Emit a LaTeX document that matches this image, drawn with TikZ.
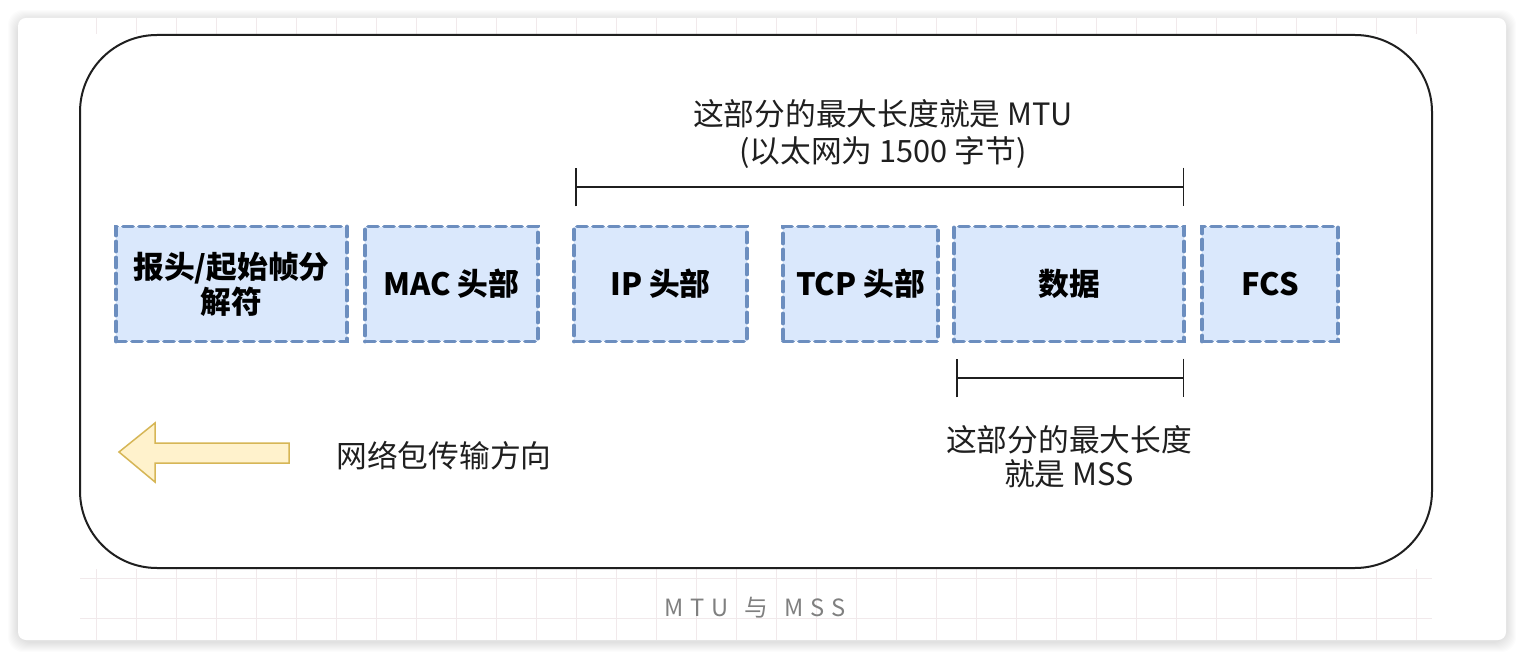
\documentclass[tikz,border=0pt]{standalone}
\usepackage{fontspec}
\newfontfamily\cjk{Noto Sans CJK SC}
\newfontfamily\capfont{Noto Sans CJK SC}[LetterSpace=30]
\usepackage{tikz}
\usetikzlibrary{arrows.meta}
\definecolor{boxfill}{HTML}{DAE8FC}
\definecolor{boxline}{HTML}{6C8EBF}
\definecolor{arrfill}{HTML}{FFF2CC}
\definecolor{arrline}{HTML}{D6B656}
\definecolor{gridcol}{HTML}{F1E9EB}
\definecolor{capgray}{HTML}{808080}
\definecolor{ink}{HTML}{1F1F1F}

\tikzset{
  pktbox/.style={draw=boxline, fill=boxfill, line width=0.075cm, dash pattern=on 0.2cm off 0.12cm,
    line cap=round, minimum height=2.3cm, inner sep=0pt, align=center,
    font=\cjk\bfseries\fontsize{17.5}{20}\selectfont},
  note/.style={text=ink, align=center, inner sep=0pt, font=\cjk\fontsize{17.5}{21}\selectfont},
  span/.style={draw=ink, line width=0.03cm, {Bar[width=0.78cm]}-{Bar[width=0.78cm]}},
  gridline/.style={draw=gridcol, line width=0.02cm}
}

\begin{document}
\begin{tikzpicture}[x=0.02cm, y=-0.02cm]
\useasboundingbox (0,0) rectangle (1524,658);
% card with soft shadow
\foreach \s in {1,...,10}
  \fill[black, opacity=0.012, rounded corners=0.3cm] ({18-\s},{20-\s}) rectangle ({1506+\s},{642+\s});
\fill[white, rounded corners=0.16cm] (18,18) rectangle (1506,640);
% grid strips
\foreach \gx in {96,136,...,1416} {
  \draw[gridline] (\gx,18) -- (\gx,34);
  \draw[gridline] (\gx,569) -- (\gx,640);
}
\draw[gridline] (80,578) -- (1432,578);
\draw[gridline] (80,618) -- (1432,618);
% frame
\draw[ink, line width=0.04cm, fill=white, rounded corners=1.54cm] (80,35) rectangle (1432,568);

% packet fields
\node[pktbox, minimum width=4.62cm] (pre) at (231.5,284) {报头/起始帧分\\解符};
\node[pktbox, minimum width=3.46cm] (mac) at (451.5,284) {MAC 头部};
\node[pktbox, minimum width=3.46cm] (ip) at (660.5,284) {IP 头部};
\node[pktbox, minimum width=3.1cm] (tcp) at (860.5,284) {TCP 头部};
\node[pktbox, minimum width=4.6cm] (data) at (1069,284) {数据};
\node[pktbox, minimum width=2.72cm] (fcs) at (1270,284) {FCS};

% MTU span
\coordinate (mtuL) at (575,187);
\coordinate (mtuR) at (1184,187);
\draw[span] (mtuL) -- (mtuR);
\node[note, font=\cjk\fontsize{17.5}{21}\selectfont] (mtu) at (883,134) {这部分的最大长度就是 MTU\\(以太网为 1500 字节)};

% MSS span
\coordinate (mssL) at (956,378);
\coordinate (mssR) at (1184,378);
\draw[span] (mssL) -- (mssR);
\node[note, font=\cjk\fontsize{17.5}{19.5}\selectfont] (mss) at (1069,457) {这部分的最大长度\\就是 MSS};

% direction
\draw[draw=arrline, fill=arrfill, line width=0.03cm, line join=miter]
  (119,452) -- (155,423) -- (155,443) -- (289,443) -- (289,463) -- (155,463) -- (155,482) -- cycle;
\node[note, anchor=west] (dir) at (336,456) {网络包传输方向};

% caption
\node[text=capgray, inner sep=0pt, font=\capfont\fontsize{13.5}{15}\selectfont] (cap) at (755,608) {MTU\hspace{0.32cm}与\hspace{0.32cm}MSS};
\end{tikzpicture}
\end{document}
